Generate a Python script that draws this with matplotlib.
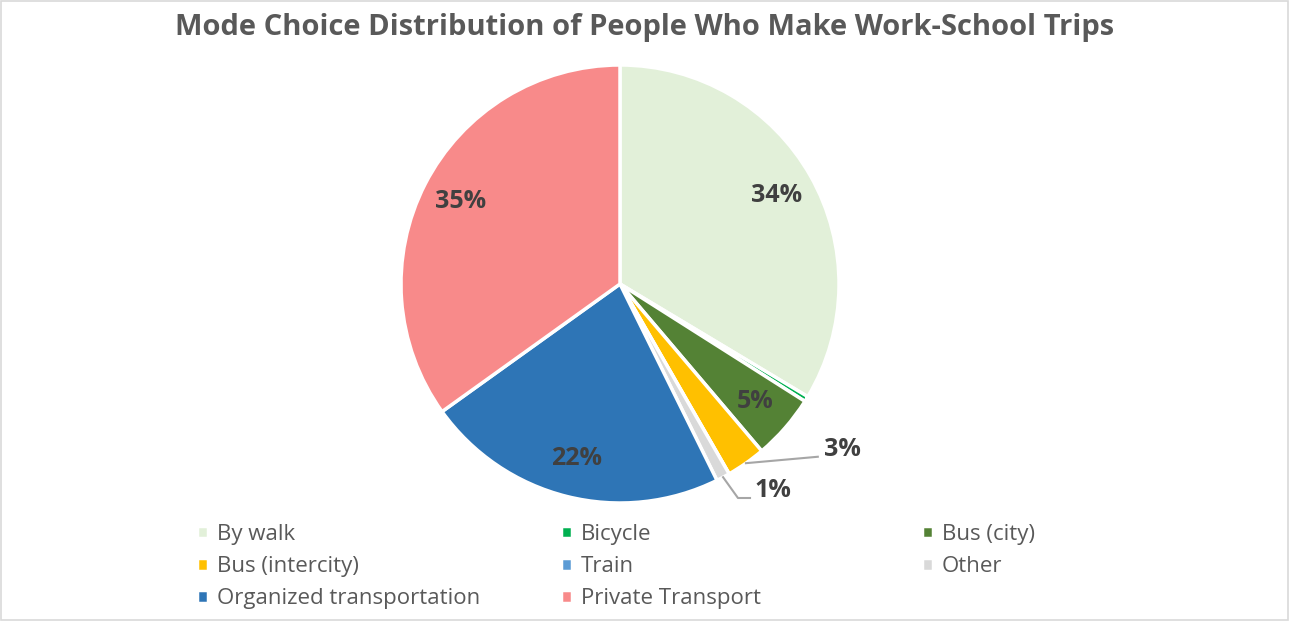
import numpy as np
import matplotlib
matplotlib.use('Agg')
import matplotlib.pyplot as plt

plt.rcParams['font.family'] = ['Open Sans', 'DejaVu Sans']

modes = ['By walk', 'Bicycle', 'Bus (city)', 'Bus (intercity)', 'Train',
         'Other', 'Organized transportation', 'Private Transport']
shares = [33.6, 0.4, 4.8, 2.9, 0.0, 1.0, 22.4, 34.9]
pct_labels = ['34%', '', '5%', '3%', '', '1%', '22%', '35%']
colors = ['#E2F0D9', '#00B050', '#548235', '#FFC000', '#5B9BD5',
          '#D9D9D9', '#2E75B6', '#F88A8A']

TXT = '#404040'

fig = plt.figure(figsize=(12.89, 6.21), dpi=100)
# excel-like border
fig.patches.append(plt.Rectangle((0.0005, 0.001), 0.999, 0.998, transform=fig.transFigure,
                                 fill=False, edgecolor='#D9D9D9', lw=1.2))

W, H = 1289, 621
cx, cy, r = 620, 284, 219
ax = fig.add_axes([(cx - r) / W, (H - cy - r) / H, 2 * r / W, 2 * r / H])

wedges, _ = ax.pie(shares, colors=colors, startangle=90, counterclock=False,
                   wedgeprops=dict(edgecolor='white', linewidth=2.5))
ax.set_xlim(-1, 1)
ax.set_ylim(-1, 1)
ax.set_aspect('equal')

# label placement
inside_r = 0.82
# slice index -> (label radius, angle shift deg, leader line points relative to label)
outside = {3: (1.20, 15.8, [(-0.028, -0.032)]),
           5: (1.128, 5.0, [(-0.077, -0.032), (-0.022, -0.032)])}

for i, w in enumerate(wedges):
    lab = pct_labels[i]
    if not lab:
        continue
    mid = np.deg2rad((w.theta1 + w.theta2) / 2)
    if i in outside:
        rr, shift, pts = outside[i]
        a = mid + np.deg2rad(shift)
        x, y = rr * np.cos(a), rr * np.sin(a)
        lx = [np.cos(mid)] + [x + p[0] for p in pts]
        ly = [np.sin(mid)] + [y + p[1] for p in pts]
        ax.plot(lx, ly, color='#A6A6A6', lw=1.5, clip_on=False)
        ax.text(x, y, lab, ha='left', va='center', fontsize=18,
                fontweight='bold', color=TXT)
    else:
        ax.text(inside_r * np.cos(mid), inside_r * np.sin(mid), lab,
                ha='center', va='center', fontsize=18, fontweight='bold', color=TXT)

fig.text(0.5, 1 - 28 / H, 'Mode Choice Distribution of People Who Make Work-School Trips',
         ha='center', va='center', fontsize=21, color='#595959', fontweight='bold')

# legend laid out in rows of three, like the original
col_x = [197, 561, 922]
for c in range(3):
    idx = [i for i in range(len(modes)) if i % 3 == c]
    fig.legend([wedges[i] for i in idx], [modes[i] for i in idx],
               loc='upper left', bbox_to_anchor=(col_x[c] / W, 1 - 524 / H),
               frameon=False, fontsize=16, handlelength=0.5, handleheight=0.5,
               handletextpad=0.4, labelspacing=0.5, labelcolor='#595959',
               borderaxespad=0, borderpad=0)

fig.savefig('out.png', dpi=100)
